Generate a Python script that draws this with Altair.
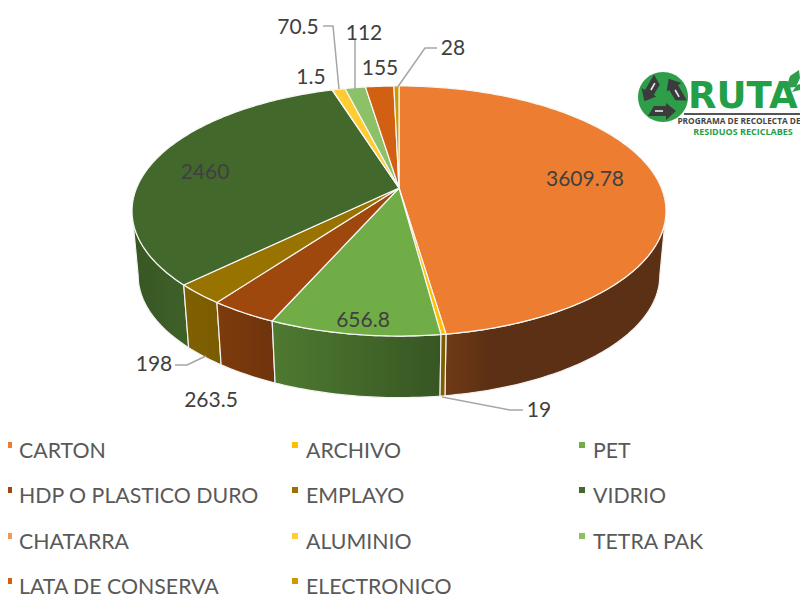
import math
import altair as alt
import pandas as pd

categories = ["CARTON", "ARCHIVO", "PET", "HDP O PLASTICO DURO", "EMPLAYO", "VIDRIO",
              "CHATARRA", "ALUMINIO", "TETRA PAK", "LATA DE CONSERVA", "ELECTRONICO"]
values = [3609.78, 19, 656.8, 263.5, 198, 2460, 1.5, 70.5, 112, 155, 28]
labels = ["3609.78", "19", "656.8", "263.5", "198", "2460", "1.5", "70.5", "112", "155", "28"]
top_colors = ["#ED7D31", "#FFC000", "#70AD47", "#9E480E", "#997300", "#43682B",
              "#F1975A", "#FFCD33", "#8CC168", "#D26012", "#CC9A00"]
wall_left = ["#703A16", "#7F6000", "#4F7A31", "#7E3B0C", "#806000", "#375623",
             "#B0602A", "#BF9000", "#658F48", "#9C480D", "#997300"]
wall_right = ["#5C3014", "#7A5C00", "#375623", "#6E340D", "#7A5C00", "#3F6128",
              "#A05A28", "#B08600", "#5A8040", "#8C420C", "#8C6900"]
label_x = [585, 539, 363, 211, 154, 205, 311, 298, 364, 380, 453]
label_y = [179.5, 410.5, 320.5, 400.5, 364.5, 172.5, 77.5, 27.5, 33.5, 68.5, 48.5]
leaders = [
    [(323, 26), (333, 26), (339, 89)],
    [(355, 39), (355, 89)],
    [(437, 48), (425, 48), (397, 88)],
    [(175, 365), (187, 365), (206, 356)],
    [(442, 397), (510, 410), (523, 410)],
]
legend_col_sq = [9, 295, 582]
legend_col_tx = [19, 306, 593]
legend_rows = [452, 497, 543, 588]

FONT = "Lato"
XS = alt.Scale(domain=[8, 800], nice=False, zero=False)
YS = alt.Scale(domain=[600, 8], nice=False, zero=False)
X = alt.X("x:Q", scale=XS, axis=None)
Y = alt.Y("y:Q", scale=YS, axis=None)


def project(theta, top=True):
    a, b, k = 262.4, 120.8, 0.184
    z = -math.cos(theta)
    s = 1 / (1 - k * z)
    if top:
        return 399 + a * math.sin(theta) * s, 188 + b * z * s
    f = 0.977
    return 399 + f * a * math.sin(theta) * s, 253 + f * b * z * s


def arc_pts(t0, t1, top=True):
    n = max(2, int(abs(t1 - t0) / math.radians(1)) + 2)
    return [project(t0 + (t1 - t0) * i / (n - 1), top) for i in range(n)]


def poly(pts, fill, stroke=None, sw=0):
    df = pd.DataFrame({"x": [p[0] for p in pts], "y": [p[1] for p in pts], "i": range(len(pts))})
    kw = {"fill": fill, "clip": False, "interpolate": "linear"}
    if stroke:
        kw.update(stroke=stroke, strokeWidth=sw, strokeJoin="round")
    else:
        kw.update(strokeWidth=0, strokeOpacity=0)
    return alt.Chart(df).mark_line(**kw).encode(x=X, y=Y, order="i:Q")


def path(pts, color, sw, **extra):
    df = pd.DataFrame({"x": [p[0] for p in pts], "y": [p[1] for p in pts], "i": range(len(pts))})
    return alt.Chart(df).mark_line(color=color, strokeWidth=sw, clip=False, **extra).encode(x=X, y=Y, order="i:Q")


def text(xs, ys, strs, size, color, align="center", weight="normal", font=FONT):
    df = pd.DataFrame({"x": xs, "y": ys, "t": strs})
    return alt.Chart(df).mark_text(font=font, fontSize=size, color=color, align=align,
                                   baseline="middle", fontWeight=weight, clip=False).encode(x=X, y=Y, text="t:N")


total = sum(values)
bounds = [0.0]
for v in values:
    bounds.append(bounds[-1] + v / total * 2 * math.pi)

layers = []
# walls, drawn from back to front
lo, hi = math.radians(100.6), math.radians(259.4)
wall_idx = sorted(range(len(values)), key=lambda i: -abs((bounds[i] + bounds[i + 1]) / 2 - math.pi))
for i in wall_idx:
    t0, t1 = max(bounds[i], lo), min(bounds[i + 1], hi)
    if t1 <= t0:
        continue
    pts = arc_pts(t0, t1, True) + arc_pts(t1, t0, False)
    pts.append(pts[0])
    knee = 0.2 if i == 0 else 1
    grad = alt.LinearGradient(gradient="linear", x1=0, x2=1, y1=0, y2=0,
                              stops=[alt.GradientStop(color=wall_left[i], offset=0),
                                     alt.GradientStop(color=wall_right[i], offset=knee),
                                     alt.GradientStop(color=wall_right[i], offset=1)])
    layers.append(poly(pts, grad, "#F2F2F2", 1.2))

# top faces
for i in range(len(values)):
    pts = [(399, 188)] + arc_pts(bounds[i], bounds[i + 1], True) + [(399, 188)]
    layers.append(poly(pts, top_colors[i], "#F7F7F7", 1.2))

# leader lines
for ln in leaders:
    layers.append(path(ln, "#A6A6A6", 1.5))

# data labels
layers.append(text(label_x, label_y, labels, 21, "#404040"))

# legend
sq_x, sq_y, sq_c, tx_x, tx_y = [], [], [], [], []
for i, c in enumerate(categories):
    r, col = i // 3, i % 3
    sq_x.append(legend_col_sq[col]); sq_y.append(legend_rows[r] - 7); sq_c.append(top_colors[i])
    tx_x.append(legend_col_tx[col]); tx_y.append(legend_rows[r])
legend_sq = pd.DataFrame({"x": sq_x, "y": sq_y, "c": sq_c})
layers.append(alt.Chart(legend_sq).mark_square(size=36, opacity=1, clip=False).encode(
    x=X, y=Y, color=alt.Color("c:N", scale=None)))
layers.append(text(tx_x, tx_y, categories, 21.3, "#595959", align="left"))

# logo
cx, cy = 663, 97
circle = [(cx + 25 * math.cos(math.radians(a)), cy + 25 * math.sin(math.radians(a))) for a in range(0, 361, 6)]
layers.append(poly(circle, "#2F9E4A"))


def rot(p, deg):
    r = math.radians(deg)
    return (cx + p[0] * math.cos(r) - p[1] * math.sin(r), cy + p[0] * math.sin(r) + p[1] * math.cos(r))


arrow = [(-15, 19), (3, 19), (3, 23), (13, 14), (3, 6), (3, 9), (-9, 9), (-15, 19)]
dash = [(-8, 14), (0, 14)]
for deg in (0, 120, 240):
    layers.append(poly([rot(p, deg) for p in arrow], "#3B3B3B"))
    layers.append(path([rot(p, deg) for p in dash], "#EDEDED", 1.6))

layers.append(text([688], [97], ["RUTA"], 37, "#23A047", align="left", weight="bold", font="DejaVu Sans"))
leaf = [(786, 88), (790, 76), (799, 70), (800, 78), (796, 87), (786, 88)]
leaf2 = [(792, 92), (797, 85), (800, 84), (800, 90), (792, 92)]
layers.append(poly(leaf, "#2F9E4A"))
layers.append(poly(leaf2, "#2F9E4A"))
layers.append(path([(684, 114), (800, 114)], "#555555", 2))
layers.append(text([739], [122], ["PROGRAMA DE RECOLECTA DE"], 8.3, "#454545", weight="bold", font="Open Sans"))
layers.append(text([743], [132], ["RESIDUOS RECICLABES"], 9, "#23A047", weight="bold", font="Open Sans"))

chart = alt.layer(*layers).properties(
    width=792, height=592, padding=0, autosize=alt.AutoSizeParams(type="none"), background="white"
).configure_view(stroke=None)

chart.save("out.html", embed_options={"renderer": "svg", "actions": False})
